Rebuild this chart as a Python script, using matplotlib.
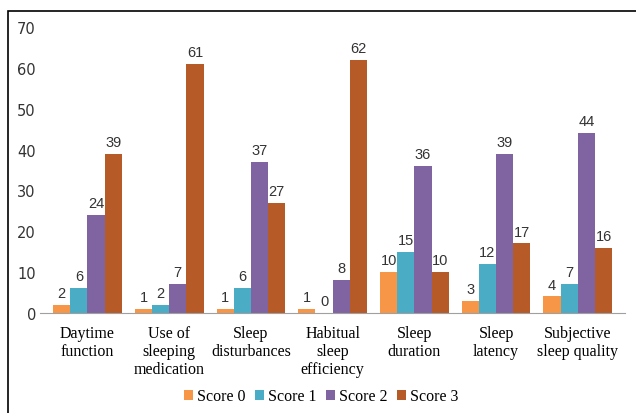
import numpy as np
import matplotlib.pyplot as plt
from matplotlib.patches import Rectangle

categories = ["Daytime\nfunction", "Use of\nsleeping\nmedication", "Sleep\ndisturbances",
              "Habitual\nsleep\nefficiency", "Sleep\nduration", "Sleep\nlatency",
              "Subjective\nsleep quality"]
score0 = [2, 1, 1, 1, 10, 3, 4]
score1 = [6, 2, 6, 0, 15, 12, 7]
score2 = [24, 7, 37, 8, 36, 39, 44]
score3 = [39, 61, 27, 62, 10, 17, 16]
series = [("Score 0", score0, "#F79646"), ("Score 1", score1, "#4BACC6"),
          ("Score 2", score2, "#8064A2"), ("Score 3", score3, "#B65A28")]

fig = plt.figure(figsize=(6.36, 4.14), dpi=100)
ax = fig.add_axes([0.063, 0.242, 0.92, 0.69])

x = np.arange(len(categories))
w = 0.21
for i, (name, vals, col) in enumerate(series):
    pos = x + (i - 1.5) * w
    ax.bar(pos, vals, w, color=col, label=name)
    for p, v in zip(pos, vals):
        ax.text(p, v + 1.2, str(v), ha="center", va="bottom",
                fontsize=10.5, color="#333333", family="Liberation Sans")

ax.set_ylim(0, 70)
ax.set_xlim(-0.58, len(categories) - 0.42)
ax.set_yticks(range(0, 71, 10))
ax.set_xticks(x)
ax.set_xticklabels(categories, family="Liberation Serif", fontsize=11.5,
                   linespacing=1.15)
ax.tick_params(axis="x", length=0, pad=9)
ax.tick_params(axis="y", length=0, pad=3, labelsize=10.5, labelcolor="#333333")
for s in ["top", "right", "left"]:
    ax.spines[s].set_visible(False)
ax.spines["bottom"].set_color("#A0A0A0")

fig.legend(loc="center", bbox_to_anchor=(0.505, 0.04), ncol=4, frameon=False,
           prop={"family": "Liberation Serif", "size": 11.5},
           handlelength=0.55, handleheight=0.55, handletextpad=0.25, columnspacing=0.6)

fig.patches.append(Rectangle((8 / 636, -0.1), 1.2, 1 - 12 / 414 + 0.1,
                             transform=fig.transFigure, fill=False,
                             edgecolor="black", linewidth=1.2))

plt.savefig("out.png")
